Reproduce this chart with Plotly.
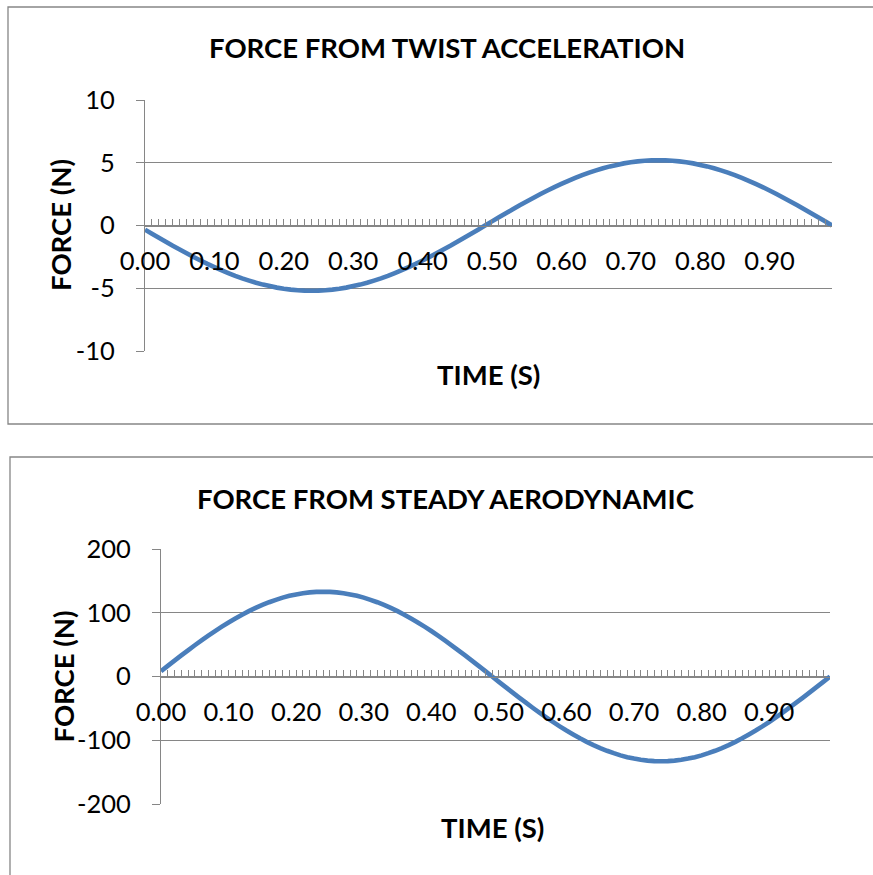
import plotly.graph_objects as go

# Time stamps along the category axis (s)
time_s = [
    0.00, 0.01, 0.02, 0.03, 0.04, 0.05, 0.06, 0.07, 0.08, 0.09,
    0.10, 0.11, 0.12, 0.13, 0.14, 0.15, 0.16, 0.17, 0.18, 0.19,
    0.20, 0.21, 0.22, 0.23, 0.24, 0.25, 0.26, 0.27, 0.28, 0.29,
    0.30, 0.31, 0.32, 0.33, 0.34, 0.35, 0.36, 0.37, 0.38, 0.39,
    0.40, 0.41, 0.42, 0.43, 0.44, 0.45, 0.46, 0.47, 0.48, 0.49,
    0.50, 0.51, 0.52, 0.53, 0.54, 0.55, 0.56, 0.57, 0.58, 0.59,
    0.60, 0.61, 0.62, 0.63, 0.64, 0.65, 0.66, 0.67, 0.68, 0.69,
    0.70, 0.71, 0.72, 0.73, 0.74, 0.75, 0.76, 0.77, 0.78, 0.79,
    0.80, 0.81, 0.82, 0.83, 0.84, 0.85, 0.86, 0.87, 0.88, 0.89,
    0.90, 0.91, 0.92, 0.93, 0.94, 0.95, 0.96, 0.97, 0.98, 0.99,
]

# Force from twist acceleration (N)
twist_force = [
    -0.33, -0.65, -0.97, -1.29, -1.61, -1.91, -2.21, -2.51, -2.79, -3.06,
    -3.31, -3.56, -3.79, -4.01, -4.21, -4.39, -4.56, -4.71, -4.83, -4.95,
    -5.04, -5.11, -5.16, -5.19, -5.20, -5.19, -5.16, -5.11, -5.04, -4.95,
    -4.83, -4.71, -4.56, -4.39, -4.21, -4.01, -3.79, -3.56, -3.31, -3.06,
    -2.79, -2.51, -2.21, -1.91, -1.61, -1.29, -0.97, -0.65, -0.33, 0.00,
    0.33, 0.65, 0.97, 1.29, 1.61, 1.91, 2.21, 2.51, 2.79, 3.06,
    3.31, 3.56, 3.79, 4.01, 4.21, 4.39, 4.56, 4.71, 4.83, 4.95,
    5.04, 5.11, 5.16, 5.19, 5.20, 5.19, 5.16, 5.11, 5.04, 4.95,
    4.83, 4.71, 4.56, 4.39, 4.21, 4.01, 3.79, 3.56, 3.31, 3.06,
    2.79, 2.51, 2.21, 1.91, 1.61, 1.29, 0.97, 0.65, 0.33, 0.00,
]

# Force from steady aerodynamic load (N)
aero_force = [
    8.4, 16.7, 24.9, 33.1, 41.1, 49.0, 56.6, 64.1, 71.3, 78.2,
    84.8, 91.0, 97.0, 102.5, 107.6, 112.3, 116.5, 120.3, 123.7, 126.5,
    128.8, 130.6, 131.9, 132.7, 133.0, 132.7, 131.9, 130.6, 128.8, 126.5,
    123.7, 120.3, 116.5, 112.3, 107.6, 102.5, 97.0, 91.0, 84.8, 78.2,
    71.3, 64.1, 56.6, 49.0, 41.1, 33.1, 24.9, 16.7, 8.4, 0.0,
    -8.4, -16.7, -24.9, -33.1, -41.1, -49.0, -56.6, -64.1, -71.3, -78.2,
    -84.8, -91.0, -97.0, -102.5, -107.6, -112.3, -116.5, -120.3, -123.7, -126.5,
    -128.8, -130.6, -131.9, -132.7, -133.0, -132.7, -131.9, -130.6, -128.8, -126.5,
    -123.7, -120.3, -116.5, -112.3, -107.6, -102.5, -97.0, -91.0, -84.8, -78.2,
    -71.3, -64.1, -56.6, -49.0, -41.1, -33.1, -24.9, -16.7, -8.4, 0.0,
]

twist_ticks = [-10, -5, 0, 5, 10]
twist_tick_text = ["-10", "-5", "0", "5", "10"]
aero_ticks = [-200, -100, 0, 100, 200]
aero_tick_text = ["-200", "-100", "0", "100", "200"]

BLUE = "#4A7EBB"
GRAY = "#868686"
FONT = "Lato"
W, H = 873, 875


def px_x(v):
    return v / W


def px_y(v):
    return 1 - v / H


def x_axis(domain, y_dom):
    return dict(
        domain=domain, range=[0, 0.99], anchor="free",
        position=(y_dom[0] + y_dom[1]) / 2, automargin=False,
        showline=True, linecolor=GRAY, linewidth=1.3,
        ticks="inside", ticklen=6, tickcolor=GRAY, tickwidth=1,
        tick0=0, dtick=0.1, tickformat=".2f",
        minor=dict(tick0=0, dtick=0.01, ticks="inside", ticklen=6,
                   tickcolor=GRAY, tickwidth=1, showgrid=False),
        showgrid=False, zeroline=False,
        tickfont=dict(family=FONT, size=25.5, color="black"),
        ticklabelstandoff=13,
    )


def y_axis(domain, anchor, rng, vals, text):
    return dict(
        domain=domain, range=rng, anchor=anchor, automargin=False,
        showline=True, linecolor=GRAY, linewidth=1.3,
        ticks="outside", ticklen=8, tickcolor=GRAY, tickwidth=1.3,
        tickvals=vals, ticktext=text,
        showgrid=True, gridcolor=GRAY, gridwidth=1.3, zeroline=False,
        tickfont=dict(family=FONT, size=25.5, color="black"),
        ticklabelstandoff=16,
    )


top_x = [px_x(145), px_x(832)]
top_y = [px_y(351), px_y(100)]
bot_x = [px_x(161), px_x(830)]
bot_y = [px_y(804), px_y(549)]

fig = go.Figure()
fig.add_trace(go.Scatter(x=time_s, y=twist_force, mode="lines",
                         line=dict(color=BLUE, width=4.6, simplify=False),
                         xaxis="x", yaxis="y", showlegend=False))
fig.add_trace(go.Scatter(x=time_s, y=aero_force, mode="lines",
                         line=dict(color=BLUE, width=4.6, simplify=False),
                         xaxis="x2", yaxis="y2", showlegend=False))

title_font = dict(family=FONT, size=27.5, color="black", weight="bold")
annotations = [
    dict(text="FORCE FROM TWIST ACCELERATION", x=px_x(447.5), y=px_y(48)),
    dict(text="TIME (S)", x=px_x(488.5), y=px_y(374)),
    dict(text="FORCE (N)", x=px_x(60.5), y=px_y(225.5), textangle=-90),
    dict(text="FORCE FROM STEADY AERODYNAMIC", x=px_x(445.5), y=px_y(498)),
    dict(text="TIME (S)", x=px_x(492), y=px_y(827)),
    dict(text="FORCE (N)", x=px_x(63), y=px_y(676.5), textangle=-90),
]
for a in annotations:
    a.update(xref="paper", yref="paper", showarrow=False,
             xanchor="center", yanchor="middle", font=title_font)

# Chart-area frames
shapes = [
    dict(type="rect", xref="paper", yref="paper",
         x0=px_x(8), x1=1.05, y0=px_y(424), y1=px_y(7),
         line=dict(color=GRAY, width=1.3), layer="below"),
    dict(type="rect", xref="paper", yref="paper",
         x0=px_x(10), x1=1.05, y0=-0.05, y1=px_y(457),
         line=dict(color=GRAY, width=1.3), layer="below"),
]

fig.update_layout(
    template="none",
    width=W, height=H, margin=dict(l=0, r=0, t=0, b=0, pad=0, autoexpand=False),
    paper_bgcolor="white", plot_bgcolor="white",
    xaxis=x_axis(top_x, top_y),
    yaxis=y_axis(top_y, "x", [-10, 10], twist_ticks, twist_tick_text),
    xaxis2=x_axis(bot_x, bot_y),
    yaxis2=y_axis(bot_y, "x2", [-200, 200], aero_ticks, aero_tick_text),
    annotations=annotations, shapes=shapes, showlegend=False,
)

fig.write_html("out.html")
